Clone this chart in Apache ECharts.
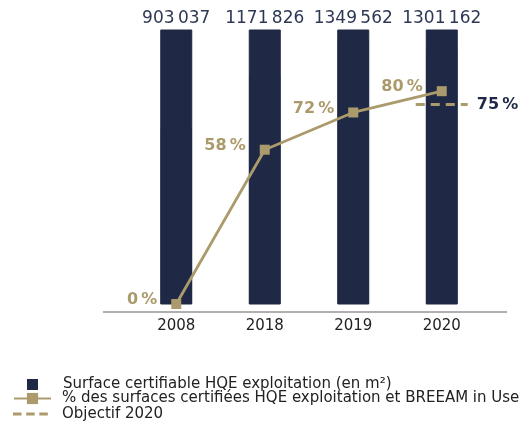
<!DOCTYPE html>
<html>
<head>
<meta charset="utf-8">
<script src="https://cdn.jsdelivr.net/npm/echarts@6/dist/echarts.min.js"></script>
<style>
  html, body { margin: 0; padding: 0; background: #ffffff; }
  #main { width: 530px; height: 424px; }
</style>
</head>
<body>
<div id="main"></div>
<script>
// années
const years = ["2008", "2018", "2019", "2020"];
// surface certifiable HQE exploitation (m²)
const surfaces = [903037, 1171826, 1349562, 1301162];
// % des surfaces certifiées
const certifiedPct = [0, 58, 72, 80];
// objectif 2020
const targetYear = "2020";
const targetPct = 75;

const NAVY = "#1f2945";
const GOLD = "#ab9b6c";
const FONT = "DejaVu Sans";

// espace fine avant les milliers seulement, comme sur le visuel
function thin(n) {
  const s = String(n);
  return s.slice(0, -3) + "\u2009" + s.slice(-3);
}

const chart = echarts.init(document.getElementById("main"));
chart.setOption({
  animation: false,
  textStyle: { fontFamily: FONT },
  grid: { left: 132, right: 44, top: 30, bottom: 120 },
  xAxis: [
    {
      type: "category",
      data: years,
      axisLine: { show: false },
      axisTick: { show: false },
      axisLabel: { color: "#222222", fontSize: 15, margin: 15, fontFamily: FONT },
    },
    {
      type: "category",
      position: "top",
      data: years,
      axisLine: { show: false },
      axisTick: { show: false },
      axisLabel: {
        color: "#2e3854",
        fontSize: 17,
        margin: 3,
        interval: 0,
        fontFamily: FONT,
        formatter: function (value, index) {
          return thin(surfaces[index]);
        },
      },
    },
  ],
  yAxis: [
    { type: "value", min: 0, max: 1400000, show: false, splitLine: { show: false } },
    { type: "value", min: 0, max: 103, show: false, splitLine: { show: false } },
  ],
  legend: [
    {
      orient: "vertical",
      left: 27,
      top: 377,
      padding: 0,
      itemWidth: 9,
      itemHeight: 9,
      textStyle: { color: "#222222", fontSize: 15, fontFamily: FONT, padding: [0, 0, 0, 21] },
      data: [{ name: "Surface certifiable HQE exploitation (en m²)", icon: "rect" }],
    },
    {
      orient: "vertical",
      left: 13,
      top: 391,
      padding: 0,
      itemWidth: 37,
      itemHeight: 14,
      textStyle: { color: "#222222", fontSize: 15, fontFamily: FONT, padding: [0, 0, 0, 6] },
      data: ["% des surfaces certifiées HQE exploitation et BREEAM in Use"],
    },
    {
      orient: "vertical",
      left: 13,
      top: 406,
      padding: 0,
      itemWidth: 37,
      itemHeight: 16,
      textStyle: { color: "#222222", fontSize: 15, fontFamily: FONT, padding: [0, 0, 0, 8] },
      data: [{ name: "Objectif 2020", icon: "path://M0,7h9v3h-9z M14,7h9v3h-9z M28,7h9v3h-9z M0,0h1v0.01h-1z M0,16.99h1v0.01h-1z" }],
    },
  ],
  graphic: [
    {
      type: "line",
      shape: { x1: 103, y1: 312, x2: 507, y2: 312 },
      style: { stroke: "#b0b0b0", lineWidth: 2 },
      silent: true,
    },
  ],
  series: [
    {
      name: "Surface certifiable HQE exploitation (en m²)",
      type: "bar",
      xAxisIndex: 0,
      yAxisIndex: 0,
      barWidth: 31,
      data: surfaces,
      itemStyle: { color: NAVY, borderColor: NAVY, borderWidth: 1 },
      showBackground: true,
      backgroundStyle: { color: NAVY, borderColor: NAVY, borderWidth: 1 },
    },
    {
      name: "% des surfaces certifiées HQE exploitation et BREEAM in Use",
      type: "line",
      xAxisIndex: 0,
      yAxisIndex: 1,
      data: certifiedPct,
      symbol: "rect",
      symbolSize: 10,
      itemStyle: { color: GOLD },
      lineStyle: { color: GOLD, width: 2.8 },
      label: {
        show: true,
        position: "left",
        distance: 14,
        offset: [0, -4],
        color: GOLD,
        fontSize: 16,
        fontWeight: "bold",
        fontFamily: FONT,
        formatter: function (p) {
          return p.value + "\u2009%";
        },
      },
      z: 5,
    },
    {
      name: "Objectif 2020",
      type: "custom",
      xAxisIndex: 0,
      yAxisIndex: 1,
      itemStyle: { color: GOLD },
      data: [[targetYear, targetPct]],
      renderItem: function (params, api) {
        const p = api.coord([api.value(0), api.value(1)]);
        return {
          type: "group",
          children: [
            {
              type: "line",
              shape: { x1: p[0] - 26, y1: p[1], x2: p[0] + 26, y2: p[1] },
              style: { stroke: GOLD, lineWidth: 2.8, lineDash: [9, 6] },
            },
            {
              type: "text",
              style: {
                x: p[0] + 35,
                y: p[1],
                text: api.value(1) + "\u2009%",
                fill: NAVY,
                font: "bold 16px " + FONT,
                verticalAlign: "middle",
                align: "left",
              },
            },
          ],
        };
      },
      z: 4,
    },
  ],
});
</script>
</body>
</html>
